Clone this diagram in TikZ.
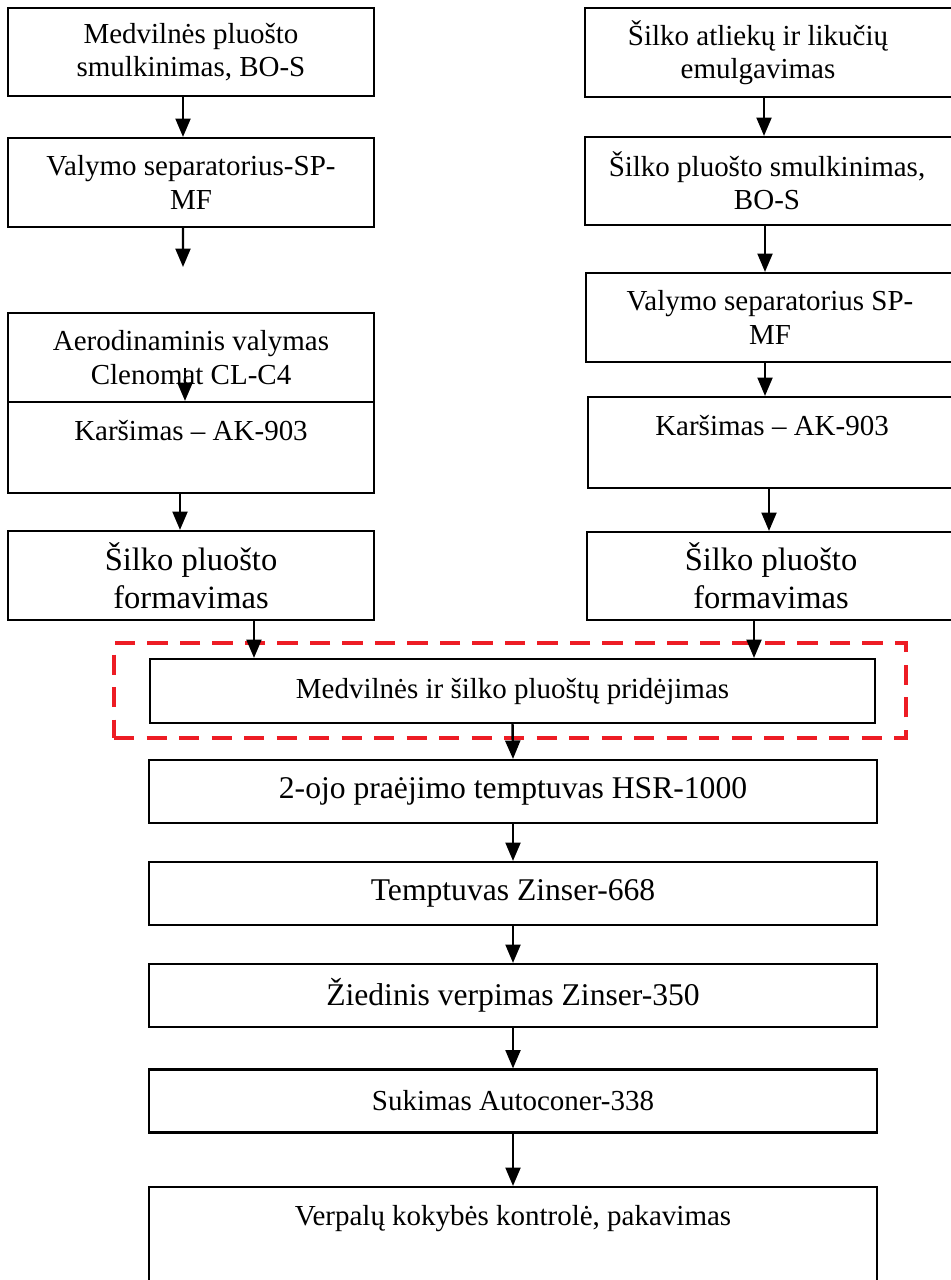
\documentclass[tikz,border=0pt]{standalone}
\usepackage{fontspec}
\setmainfont{Liberation Serif}
\usepackage{tikz}
\usetikzlibrary{arrows.meta}

\definecolor{raudona}{RGB}{237,28,36}

\tikzset{
    box/.style={draw, line width=1.2pt, inner sep=0pt, align=center,
        font=\fontsize{16.5}{19}\selectfont},
    bigbox/.style={box, font=\fontsize{18.5}{21.5}\selectfont},
    midbox/.style={box, font=\fontsize{18}{21}\selectfont},
    arr/.style={-{Triangle[length=10.5pt,width=8.5pt]}, line width=1.4pt},
    grupe/.style={draw=raudona, line width=2.4pt, dash pattern=on 11.5pt off 7pt,
        minimum width=15.84cm, minimum height=1.9cm}
}

% teksto poslinkis dešinėje pusėje
\newcommand{\kairen}[1]{\hspace*{#1}}

\begin{document}
\begin{tikzpicture}[x=0.02cm, y=-0.02cm]
        \useasboundingbox (0,0) rectangle (950,1280);

        % Medvilnės šaka
        \node[box, minimum width=7.32cm, minimum height=1.76cm] (msmulk) at (191,52)
            {Medvilnės pluošto\\smulkinimas, BO-S};
        \node[box, minimum width=7.32cm, minimum height=1.78cm] (msep) at (191,182.5)
            {Valymo separatorius-SP-\\MF};
        \coordinate (mtusc) at (183,267);
        \node[box, minimum width=7.32cm, minimum height=1.78cm] (maero) at (191,357.5)
            {Aerodinaminis valymas\\Clenomat CL-C4};
        \node[box, minimum width=7.32cm, minimum height=1.82cm] (mkars) at (191,447.5)
            {Karšimas -- AK-903\\~};
        \node[bigbox, minimum width=7.32cm, minimum height=1.78cm] (mform) at (191,575.5)
            {Šilko pluošto\\formavimas};

        % Šilko šaka (dešinė pusė už krašto)
        \node[box, minimum width=7.8cm, minimum height=1.78cm] (semul) at (780,52.5)
            {\kairen{-0.88cm}Šilko atliekų ir likučių\\\kairen{-0.88cm}emulgavimas};
        \node[box, minimum width=7.8cm, minimum height=1.76cm] (ssmulk) at (780,181)
            {\kairen{-0.52cm}Šilko pluošto smulkinimas,\\\kairen{-0.52cm}BO-S};
        \node[box, minimum width=7.8cm, minimum height=1.78cm] (ssep) at (781,317.5)
            {\kairen{-0.44cm}Valymo separatorius SP-\\\kairen{-0.44cm}MF};
        \node[box, minimum width=7.8cm, minimum height=1.82cm] (skars) at (783,442.5)
            {\kairen{-0.44cm}Karšimas -- AK-903\\~};
        \node[bigbox, minimum width=7.8cm, minimum height=1.76cm] (sform) at (782,576)
            {\kairen{-0.44cm}Šilko pluošto\\\kairen{-0.44cm}formavimas};

        % Bendra dalis
        \node[grupe] (grp) at (510,690.5) {};
        \node[box, minimum width=14.5cm, minimum height=1.28cm] (prid) at (512.5,691)
            {Medvilnės ir šilko pluoštų pridėjimas};
        \node[midbox, minimum width=14.56cm, minimum height=1.26cm] (hsr) at (513,791.5)
            {2-ojo praėjimo temptuvas HSR-1000};
        \node[midbox, minimum width=14.56cm, minimum height=1.26cm] (zin) at (513,893.5)
            {Temptuvas Zinser-668};
        \node[midbox, minimum width=14.56cm, minimum height=1.26cm] (verp) at (513,995.5)
            {Žiedinis verpimas Zinser-350};
        \node[box, minimum width=14.56cm, minimum height=1.26cm] (suk) at (513,1101)
            {Sukimas Autoconer-338};
        \node[box, minimum width=14.56cm, minimum height=2cm] (kokyb) at (513,1237)
            {Verpalų kokybės kontrolė, pakavimas\\[5pt]~};

        % Rodyklės
        \draw[arr] ([xshift=-0.16cm]msmulk.south) -- ([xshift=-0.16cm]msep.north);
        \draw[arr] ([xshift=-0.16cm]msep.south) -- (mtusc);
        \draw[arr] ([xshift=-0.12cm,yshift=-0.21cm]maero.center) -- ([xshift=-0.12cm]mkars.north);
        \draw[arr] ([xshift=-0.22cm]mkars.south) -- ([xshift=-0.22cm]mform.north);
        \draw[arr] ([xshift=1.26cm]mform.south) -- ([xshift=1.26cm]mform.south |- prid.north);

        \draw[arr] ([xshift=-0.32cm]semul.south) -- ([xshift=-0.32cm]semul.south |- ssmulk.north);
        \draw[arr] ([xshift=-0.3cm]ssmulk.south) -- ([xshift=-0.3cm]ssmulk.south |- ssep.north);
        \draw[arr] ([xshift=-0.32cm]ssep.south) -- ([xshift=-0.32cm]ssep.south |- skars.north);
        \draw[arr] ([xshift=-0.28cm]skars.south) -- ([xshift=-0.28cm]skars.south |- sform.north);
        \draw[arr] ([xshift=-0.56cm]sform.south) -- ([xshift=-0.56cm]sform.south |- prid.north);

        \draw[arr] (prid.south) -- (hsr.north);
        \draw[arr] (hsr.south) -- (zin.north);
        \draw[arr] (zin.south) -- (verp.north);
        \draw[arr] (verp.south) -- (suk.north);
        \draw[arr] (suk.south) -- (kokyb.north);
\end{tikzpicture}
\end{document}
